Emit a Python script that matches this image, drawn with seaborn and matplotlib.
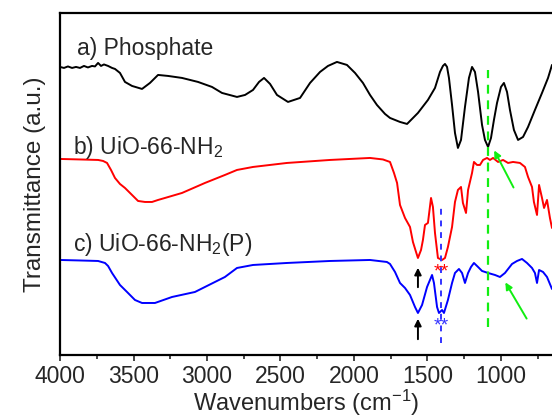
import matplotlib
matplotlib.use("Agg")
import matplotlib.pyplot as plt
import seaborn as sns
import pandas as pd

# ---- data (wavenumber in cm^-1, transmittance in arbitrary offset units) ----
wn_a = [4000, 3973, 3946, 3918, 3891, 3864, 3837, 3810, 3782, 3762, 3741, 3721, 3701, 3673,
        3646, 3626, 3592, 3558, 3510, 3442, 3388, 3333, 3265, 3170, 3061, 2966, 2898, 2796,
        2741, 2687, 2646, 2612, 2571, 2524, 2449, 2367, 2299, 2231, 2177, 2116, 2048, 1993,
        1939, 1891, 1844, 1789, 1755, 1687, 1639, 1565, 1497, 1449, 1415, 1395, 1381, 1367,
        1354, 1333, 1313, 1293, 1272, 1245, 1218, 1197, 1177, 1156, 1129, 1109, 1088, 1068,
        1048, 1027, 1000, 980, 959, 939, 912, 884, 850, 816, 769, 721, 680, 653]
t_a = [288, 287, 288.5, 287, 288, 287, 289, 287.5, 289, 288.5, 292, 289, 290.5, 289,
       287, 286, 282, 273, 269, 266, 272, 280, 279, 277, 273, 268, 262, 258,
       260, 265, 273, 277, 271, 260, 253, 257, 272, 283, 289, 293, 290, 282,
       272, 260, 250, 241, 237, 233, 231, 242, 255, 267, 283, 289, 291, 288,
       277, 250, 222, 207, 215, 248, 277, 288, 283, 263, 230, 215, 208, 217,
       235, 252, 268, 272, 263, 245, 225, 215, 218, 228, 245, 262, 277, 290]

wn_b = [4000, 3864, 3741, 3707, 3680, 3653, 3626, 3592, 3558, 3510, 3469, 3422, 3374, 3333,
        3286, 3170, 3014, 2878, 2796, 2687, 2456, 2163, 1891, 1803, 1755, 1728, 1707, 1687,
        1653, 1619, 1599, 1578, 1565, 1544, 1531, 1517, 1497, 1476, 1463, 1449, 1429, 1401,
        1381, 1361, 1333, 1313, 1293, 1272, 1259, 1238, 1224, 1197, 1184, 1163, 1143, 1122,
        1095, 1075, 1054, 1020, 986, 952, 918, 871, 837, 816, 789, 776, 755, 741,
        721, 707, 687, 667, 653]
t_b = [196, 195.5, 195, 194, 192, 185, 177, 171, 167, 160, 154, 153, 153, 155,
       157, 162, 172, 180, 185, 188, 192, 195, 197, 195.5, 193, 182, 172, 150,
       137, 128, 113, 103, 97, 105, 115, 130, 132, 157, 148, 122, 97, 95,
       97, 108, 128, 153, 165, 168, 152, 142, 165, 182, 193, 190, 190, 195,
       197, 195, 197, 193, 195, 192, 193, 192, 188, 178, 168, 153, 140, 170,
       157, 147, 155, 137, 127]

wn_c = [4000, 3864, 3741, 3694, 3673, 3646, 3592, 3544, 3490, 3442, 3354, 3238, 3082, 2878,
        2796, 2687, 2456, 2163, 1891, 1776, 1755, 1721, 1687, 1653, 1619, 1585, 1565, 1537,
        1503, 1469, 1456, 1435, 1422, 1401, 1388, 1361, 1333, 1313, 1286, 1265, 1245, 1224,
        1204, 1184, 1156, 1129, 1088, 1041, 1007, 973, 925, 891, 857, 823, 789, 769,
        755, 741, 714, 687, 653]
t_c = [95, 94.5, 94, 92, 89, 82, 70, 63, 55, 52, 52, 58, 63, 78,
       87, 90, 92, 94, 95, 93, 91, 83, 72, 67, 60, 48, 42, 50,
       68, 80, 72, 48, 42, 45, 42, 55, 72, 82, 86, 82, 72, 82,
       88, 92, 88, 84, 82, 80, 78, 82, 91, 94, 96, 92, 87, 82,
       72, 85, 83, 78, 66]

labels = ["a) Phosphate", "b) UiO-66-NH$_2$", "c) UiO-66-NH$_2$(P)"]
colors = ["black", "#ff0000", "#0000ff"]

df = pd.concat([
    pd.DataFrame({"wn": wn_a, "t": t_a, "s": "a"}),
    pd.DataFrame({"wn": wn_b, "t": t_b, "s": "b"}),
    pd.DataFrame({"wn": wn_c, "t": t_c, "s": "c"}),
])

sns.set_style("white")
plt.rcParams["font.family"] = ["Liberation Sans", "DejaVu Sans"]
plt.rcParams["mathtext.fontset"] = "custom"
plt.rcParams["mathtext.rm"] = "Liberation Sans"
plt.rcParams["mathtext.it"] = "Liberation Sans:italic"
plt.rcParams["mathtext.default"] = "regular"

fig = plt.figure(figsize=(5.52, 4.17), dpi=100)
ax = fig.add_axes([0.1087, 0.1487, 0.8913, 0.8203])

sns.lineplot(data=df, x="wn", y="t", hue="s", palette=colors, estimator=None,
             sort=False, linewidth=1.4, legend=False, ax=ax)

ax.set_xlim(4000, 653)
ax.set_ylim(0, 342)
ax.set_yticks([])
ax.set_xticks([4000, 3500, 3000, 2500, 2000, 1500, 1000])
ax.set_xticks([3750, 3250, 2750, 2250, 1750, 1250, 750], minor=True)
ax.tick_params(axis="x", which="major", direction="out", length=4, width=1.2,
               labelsize=16.5, bottom=True, pad=3)
ax.tick_params(axis="x", which="minor", direction="out", length=3, width=1.2, bottom=True)
for side in ["left", "bottom", "top"]:
    ax.spines[side].set_linewidth(1.6)
    ax.spines[side].set_color("black")
ax.spines["right"].set_visible(False)

ax.set_xlabel("Wavenumbers (cm$^{-1}$)", fontsize=17, labelpad=0)
ax.set_ylabel("Transmittance (a.u.)", fontsize=17.5, labelpad=10)

# curve labels
ax.text(3884, 300, labels[0], fontsize=16.5, va="baseline", ha="left")
ax.text(3912, 201, labels[1], fontsize=16.5, va="baseline", ha="left")
ax.text(3912, 104, labels[2], fontsize=16.5, va="baseline", ha="left")

# dashed marker lines
ax.plot([1085, 1085], [28, 285], color="#11ee11", lw=1.6, ls=(0, (4, 3)))
ax.plot([1408, 1408], [12, 147], color="#3333ff", lw=1.4, ls=(0, (3, 3)))

# black arrows at ~1565
for tail, head in [(65, 90), (13, 39)]:
    ax.annotate("", xy=(1565, head), xytext=(1565, tail),
                arrowprops=dict(arrowstyle="-|>", color="black", lw=1.4, mutation_scale=10))

# green arrows
ax.annotate("", xy=(1055, 207), xytext=(906, 165),
            arrowprops=dict(arrowstyle="-|>", color="#11ee11", lw=1.4, mutation_scale=10))
ax.annotate("", xy=(980, 75), xytext=(816, 34),
            arrowprops=dict(arrowstyle="-|>", color="#11ee11", lw=1.4, mutation_scale=10))

# asterisks
ax.text(1408, 83, "**", color="#ff0000", fontsize=14, ha="center", va="center")
ax.text(1408, 29, "**", color="#3333ff", fontsize=14, ha="center", va="center")

fig.savefig("out.png", dpi=100, facecolor="white")
